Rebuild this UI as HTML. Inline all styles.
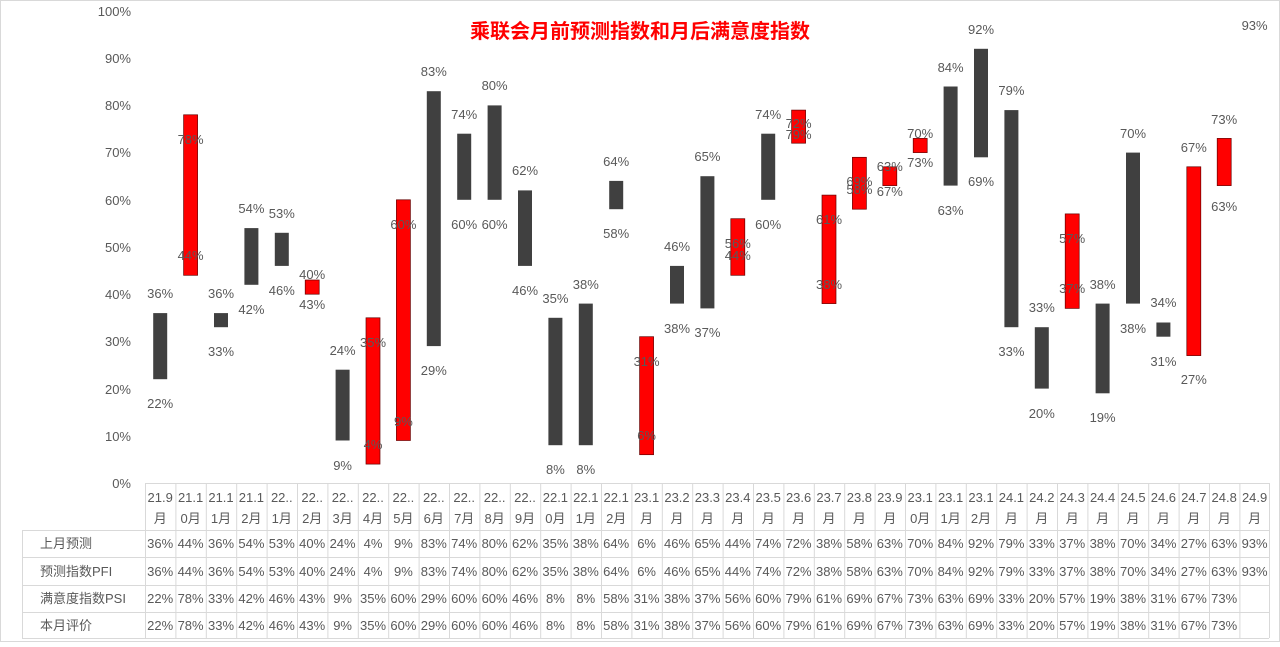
<!DOCTYPE html>
<html><head><meta charset="utf-8"><style>
body{margin:0;background:#fff}
svg text{font-family:"Liberation Sans","Noto Sans CJK SC",sans-serif;font-size:13px;fill:#595959}
</style></head><body>
<svg width="1280" height="642" xmlns="http://www.w3.org/2000/svg">
<rect x="0.5" y="0.5" width="1279" height="641" fill="#fff" stroke="#d9d9d9"/>
<text x="640" y="38" text-anchor="middle" style="font-size:20px;font-weight:bold;fill:#ff0000">乘联会月前预测指数和月后满意度指数</text>
<g text-anchor="end">
<text x="131" y="488">0%</text><text x="131" y="441">10%</text><text x="131" y="394">20%</text><text x="131" y="346">30%</text><text x="131" y="299">40%</text><text x="131" y="252">50%</text><text x="131" y="205">60%</text><text x="131" y="157">70%</text><text x="131" y="110">80%</text><text x="131" y="63">90%</text><text x="131" y="16">100%</text>
</g>
<g id="bars">
<rect x="153.2" y="313.1" width="14" height="66.1" fill="#404040"/>
<rect x="183.6" y="114.8" width="14" height="160.5" fill="#ff0000" stroke="#600" stroke-width="0.7"/>
<rect x="214.0" y="313.1" width="14" height="14.1" fill="#404040"/>
<rect x="244.4" y="228.1" width="14" height="56.7" fill="#404040"/>
<rect x="274.8" y="232.8" width="14" height="33.1" fill="#404040"/>
<rect x="305.2" y="280.0" width="14" height="14.2" fill="#ff0000" stroke="#600" stroke-width="0.7"/>
<rect x="335.6" y="369.7" width="14" height="70.8" fill="#404040"/>
<rect x="366.0" y="317.8" width="14" height="146.3" fill="#ff0000" stroke="#600" stroke-width="0.7"/>
<rect x="396.4" y="199.8" width="14" height="240.7" fill="#ff0000" stroke="#600" stroke-width="0.7"/>
<rect x="426.8" y="91.2" width="14" height="254.9" fill="#404040"/>
<rect x="457.2" y="133.7" width="14" height="66.1" fill="#404040"/>
<rect x="487.6" y="105.4" width="14" height="94.4" fill="#404040"/>
<rect x="518.0" y="190.4" width="14" height="75.5" fill="#404040"/>
<rect x="548.4" y="317.8" width="14" height="127.4" fill="#404040"/>
<rect x="578.8" y="303.6" width="14" height="141.6" fill="#404040"/>
<rect x="609.2" y="180.9" width="14" height="28.3" fill="#404040"/>
<rect x="639.6" y="336.7" width="14" height="118.0" fill="#ff0000" stroke="#600" stroke-width="0.7"/>
<rect x="670.0" y="265.9" width="14" height="37.7" fill="#404040"/>
<rect x="700.4" y="176.2" width="14" height="132.2" fill="#404040"/>
<rect x="730.8" y="218.7" width="14" height="56.6" fill="#ff0000" stroke="#600" stroke-width="0.7"/>
<rect x="761.2" y="133.7" width="14" height="66.1" fill="#404040"/>
<rect x="791.6" y="110.1" width="14" height="33.1" fill="#ff0000" stroke="#600" stroke-width="0.7"/>
<rect x="822.0" y="195.1" width="14" height="108.5" fill="#ff0000" stroke="#600" stroke-width="0.7"/>
<rect x="852.4" y="157.3" width="14" height="51.9" fill="#ff0000" stroke="#600" stroke-width="0.7"/>
<rect x="882.8" y="166.8" width="14" height="18.8" fill="#ff0000" stroke="#600" stroke-width="0.7"/>
<rect x="913.2" y="138.4" width="14" height="14.2" fill="#ff0000" stroke="#600" stroke-width="0.7"/>
<rect x="943.6" y="86.5" width="14" height="99.1" fill="#404040"/>
<rect x="974.0" y="48.8" width="14" height="108.5" fill="#404040"/>
<rect x="1004.4" y="110.1" width="14" height="217.1" fill="#404040"/>
<rect x="1034.8" y="327.2" width="14" height="61.4" fill="#404040"/>
<rect x="1065.2" y="213.9" width="14" height="94.5" fill="#ff0000" stroke="#600" stroke-width="0.7"/>
<rect x="1095.6" y="303.6" width="14" height="89.7" fill="#404040"/>
<rect x="1126.0" y="152.6" width="14" height="151.0" fill="#404040"/>
<rect x="1156.4" y="322.5" width="14" height="14.2" fill="#404040"/>
<rect x="1186.8" y="166.8" width="14" height="188.8" fill="#ff0000" stroke="#600" stroke-width="0.7"/>
<rect x="1217.2" y="138.4" width="14" height="47.2" fill="#ff0000" stroke="#600" stroke-width="0.7"/>
</g>
<g text-anchor="middle">
<text x="160.2" y="298">36%</text><text x="160.2" y="408">22%</text>
<text x="190.6" y="260">44%</text><text x="190.6" y="144">78%</text>
<text x="221.0" y="298">36%</text><text x="221.0" y="356">33%</text>
<text x="251.4" y="213">54%</text><text x="251.4" y="314">42%</text>
<text x="281.8" y="218">53%</text><text x="281.8" y="295">46%</text>
<text x="312.2" y="279">40%</text><text x="312.2" y="309">43%</text>
<text x="342.6" y="355">24%</text><text x="342.6" y="470">9%</text>
<text x="373.0" y="449">4%</text><text x="373.0" y="347">35%</text>
<text x="403.4" y="426">9%</text><text x="403.4" y="229">60%</text>
<text x="433.8" y="76">83%</text><text x="433.8" y="375">29%</text>
<text x="464.2" y="119">74%</text><text x="464.2" y="229">60%</text>
<text x="494.6" y="90">80%</text><text x="494.6" y="229">60%</text>
<text x="525.0" y="175">62%</text><text x="525.0" y="295">46%</text>
<text x="555.4" y="303">35%</text><text x="555.4" y="474">8%</text>
<text x="585.8" y="289">38%</text><text x="585.8" y="474">8%</text>
<text x="616.2" y="166">64%</text><text x="616.2" y="238">58%</text>
<text x="646.6" y="440">6%</text><text x="646.6" y="366">31%</text>
<text x="677.0" y="251">46%</text><text x="677.0" y="333">38%</text>
<text x="707.4" y="161">65%</text><text x="707.4" y="337">37%</text>
<text x="737.8" y="260">44%</text><text x="737.8" y="248">56%</text>
<text x="768.2" y="119">74%</text><text x="768.2" y="229">60%</text>
<text x="798.6" y="128">72%</text><text x="798.6" y="139">79%</text>
<text x="829.0" y="289">38%</text><text x="829.0" y="224">61%</text>
<text x="859.4" y="194">58%</text><text x="859.4" y="186">69%</text>
<text x="889.8" y="171">63%</text><text x="889.8" y="196">67%</text>
<text x="920.2" y="138">70%</text><text x="920.2" y="167">73%</text>
<text x="950.6" y="72">84%</text><text x="950.6" y="215">63%</text>
<text x="981.0" y="34">92%</text><text x="981.0" y="186">69%</text>
<text x="1011.4" y="95">79%</text><text x="1011.4" y="356">33%</text>
<text x="1041.8" y="312">33%</text><text x="1041.8" y="418">20%</text>
<text x="1072.2" y="293">37%</text><text x="1072.2" y="243">57%</text>
<text x="1102.6" y="289">38%</text><text x="1102.6" y="422">19%</text>
<text x="1133.0" y="138">70%</text><text x="1133.0" y="333">38%</text>
<text x="1163.4" y="307">34%</text><text x="1163.4" y="366">31%</text>
<text x="1193.8" y="384">27%</text><text x="1193.8" y="152">67%</text>
<text x="1224.2" y="211">63%</text><text x="1224.2" y="124">73%</text>
<text x="1254.6" y="30">93%</text>
</g>
<g stroke="#d9d9d9" stroke-width="1" fill="none">
<line x1="145" y1="483.5" x2="1269" y2="483.5"/>
<line x1="22" y1="530.5" x2="1269" y2="530.5"/>
<line x1="22" y1="557.5" x2="1269" y2="557.5"/>
<line x1="22" y1="585.5" x2="1269" y2="585.5"/>
<line x1="22" y1="612.5" x2="1269" y2="612.5"/>
<line x1="22" y1="638.5" x2="1269" y2="638.5"/>
<line x1="22.5" y1="530" x2="22.5" y2="638"/>
<path d="M145.5 483V638M175.9 483V638M206.3 483V638M236.7 483V638M267.1 483V638M297.5 483V638M327.9 483V638M358.3 483V638M388.7 483V638M419.1 483V638M449.5 483V638M479.9 483V638M510.3 483V638M540.7 483V638M571.1 483V638M601.5 483V638M631.9 483V638M662.3 483V638M692.7 483V638M723.1 483V638M753.5 483V638M783.9 483V638M814.3 483V638M844.7 483V638M875.1 483V638M905.5 483V638M935.9 483V638M966.3 483V638M996.7 483V638M1027.1 483V638M1057.5 483V638M1087.9 483V638M1118.3 483V638M1148.7 483V638M1179.1 483V638M1209.5 483V638M1239.9 483V638M1269.5 483V638"/>
</g>
<g>
<text x="40" y="548">上月预测</text>
<text x="40" y="576">预测指数PFI</text>
<text x="40" y="603">满意度指数PSI</text>
<text x="40" y="630">本月评价</text>
</g>
<g text-anchor="middle">
<text x="160.2" y="502">21.9</text><text x="160.2" y="523">月</text>
<text x="190.6" y="502">21.1</text><text x="190.6" y="523">0月</text>
<text x="221.0" y="502">21.1</text><text x="221.0" y="523">1月</text>
<text x="251.4" y="502">21.1</text><text x="251.4" y="523">2月</text>
<text x="281.8" y="502">22..</text><text x="281.8" y="523">1月</text>
<text x="312.2" y="502">22..</text><text x="312.2" y="523">2月</text>
<text x="342.6" y="502">22..</text><text x="342.6" y="523">3月</text>
<text x="373.0" y="502">22..</text><text x="373.0" y="523">4月</text>
<text x="403.4" y="502">22..</text><text x="403.4" y="523">5月</text>
<text x="433.8" y="502">22..</text><text x="433.8" y="523">6月</text>
<text x="464.2" y="502">22..</text><text x="464.2" y="523">7月</text>
<text x="494.6" y="502">22..</text><text x="494.6" y="523">8月</text>
<text x="525.0" y="502">22..</text><text x="525.0" y="523">9月</text>
<text x="555.4" y="502">22.1</text><text x="555.4" y="523">0月</text>
<text x="585.8" y="502">22.1</text><text x="585.8" y="523">1月</text>
<text x="616.2" y="502">22.1</text><text x="616.2" y="523">2月</text>
<text x="646.6" y="502">23.1</text><text x="646.6" y="523">月</text>
<text x="677.0" y="502">23.2</text><text x="677.0" y="523">月</text>
<text x="707.4" y="502">23.3</text><text x="707.4" y="523">月</text>
<text x="737.8" y="502">23.4</text><text x="737.8" y="523">月</text>
<text x="768.2" y="502">23.5</text><text x="768.2" y="523">月</text>
<text x="798.6" y="502">23.6</text><text x="798.6" y="523">月</text>
<text x="829.0" y="502">23.7</text><text x="829.0" y="523">月</text>
<text x="859.4" y="502">23.8</text><text x="859.4" y="523">月</text>
<text x="889.8" y="502">23.9</text><text x="889.8" y="523">月</text>
<text x="920.2" y="502">23.1</text><text x="920.2" y="523">0月</text>
<text x="950.6" y="502">23.1</text><text x="950.6" y="523">1月</text>
<text x="981.0" y="502">23.1</text><text x="981.0" y="523">2月</text>
<text x="1011.4" y="502">24.1</text><text x="1011.4" y="523">月</text>
<text x="1041.8" y="502">24.2</text><text x="1041.8" y="523">月</text>
<text x="1072.2" y="502">24.3</text><text x="1072.2" y="523">月</text>
<text x="1102.6" y="502">24.4</text><text x="1102.6" y="523">月</text>
<text x="1133.0" y="502">24.5</text><text x="1133.0" y="523">月</text>
<text x="1163.4" y="502">24.6</text><text x="1163.4" y="523">月</text>
<text x="1193.8" y="502">24.7</text><text x="1193.8" y="523">月</text>
<text x="1224.2" y="502">24.8</text><text x="1224.2" y="523">月</text>
<text x="1254.6" y="502">24.9</text><text x="1254.6" y="523">月</text>
</g>
<g text-anchor="middle">
<text x="160.2" y="548">36%</text><text x="190.6" y="548">44%</text><text x="221.0" y="548">36%</text><text x="251.4" y="548">54%</text><text x="281.8" y="548">53%</text><text x="312.2" y="548">40%</text><text x="342.6" y="548">24%</text><text x="373.0" y="548">4%</text><text x="403.4" y="548">9%</text><text x="433.8" y="548">83%</text><text x="464.2" y="548">74%</text><text x="494.6" y="548">80%</text><text x="525.0" y="548">62%</text><text x="555.4" y="548">35%</text><text x="585.8" y="548">38%</text><text x="616.2" y="548">64%</text><text x="646.6" y="548">6%</text><text x="677.0" y="548">46%</text><text x="707.4" y="548">65%</text><text x="737.8" y="548">44%</text><text x="768.2" y="548">74%</text><text x="798.6" y="548">72%</text><text x="829.0" y="548">38%</text><text x="859.4" y="548">58%</text><text x="889.8" y="548">63%</text><text x="920.2" y="548">70%</text><text x="950.6" y="548">84%</text><text x="981.0" y="548">92%</text><text x="1011.4" y="548">79%</text><text x="1041.8" y="548">33%</text><text x="1072.2" y="548">37%</text><text x="1102.6" y="548">38%</text><text x="1133.0" y="548">70%</text><text x="1163.4" y="548">34%</text><text x="1193.8" y="548">27%</text><text x="1224.2" y="548">63%</text><text x="1254.6" y="548">93%</text>
</g>
<g text-anchor="middle">
<text x="160.2" y="576">36%</text><text x="190.6" y="576">44%</text><text x="221.0" y="576">36%</text><text x="251.4" y="576">54%</text><text x="281.8" y="576">53%</text><text x="312.2" y="576">40%</text><text x="342.6" y="576">24%</text><text x="373.0" y="576">4%</text><text x="403.4" y="576">9%</text><text x="433.8" y="576">83%</text><text x="464.2" y="576">74%</text><text x="494.6" y="576">80%</text><text x="525.0" y="576">62%</text><text x="555.4" y="576">35%</text><text x="585.8" y="576">38%</text><text x="616.2" y="576">64%</text><text x="646.6" y="576">6%</text><text x="677.0" y="576">46%</text><text x="707.4" y="576">65%</text><text x="737.8" y="576">44%</text><text x="768.2" y="576">74%</text><text x="798.6" y="576">72%</text><text x="829.0" y="576">38%</text><text x="859.4" y="576">58%</text><text x="889.8" y="576">63%</text><text x="920.2" y="576">70%</text><text x="950.6" y="576">84%</text><text x="981.0" y="576">92%</text><text x="1011.4" y="576">79%</text><text x="1041.8" y="576">33%</text><text x="1072.2" y="576">37%</text><text x="1102.6" y="576">38%</text><text x="1133.0" y="576">70%</text><text x="1163.4" y="576">34%</text><text x="1193.8" y="576">27%</text><text x="1224.2" y="576">63%</text><text x="1254.6" y="576">93%</text>
</g>
<g text-anchor="middle">
<text x="160.2" y="603">22%</text><text x="190.6" y="603">78%</text><text x="221.0" y="603">33%</text><text x="251.4" y="603">42%</text><text x="281.8" y="603">46%</text><text x="312.2" y="603">43%</text><text x="342.6" y="603">9%</text><text x="373.0" y="603">35%</text><text x="403.4" y="603">60%</text><text x="433.8" y="603">29%</text><text x="464.2" y="603">60%</text><text x="494.6" y="603">60%</text><text x="525.0" y="603">46%</text><text x="555.4" y="603">8%</text><text x="585.8" y="603">8%</text><text x="616.2" y="603">58%</text><text x="646.6" y="603">31%</text><text x="677.0" y="603">38%</text><text x="707.4" y="603">37%</text><text x="737.8" y="603">56%</text><text x="768.2" y="603">60%</text><text x="798.6" y="603">79%</text><text x="829.0" y="603">61%</text><text x="859.4" y="603">69%</text><text x="889.8" y="603">67%</text><text x="920.2" y="603">73%</text><text x="950.6" y="603">63%</text><text x="981.0" y="603">69%</text><text x="1011.4" y="603">33%</text><text x="1041.8" y="603">20%</text><text x="1072.2" y="603">57%</text><text x="1102.6" y="603">19%</text><text x="1133.0" y="603">38%</text><text x="1163.4" y="603">31%</text><text x="1193.8" y="603">67%</text><text x="1224.2" y="603">73%</text>
</g>
<g text-anchor="middle">
<text x="160.2" y="630">22%</text><text x="190.6" y="630">78%</text><text x="221.0" y="630">33%</text><text x="251.4" y="630">42%</text><text x="281.8" y="630">46%</text><text x="312.2" y="630">43%</text><text x="342.6" y="630">9%</text><text x="373.0" y="630">35%</text><text x="403.4" y="630">60%</text><text x="433.8" y="630">29%</text><text x="464.2" y="630">60%</text><text x="494.6" y="630">60%</text><text x="525.0" y="630">46%</text><text x="555.4" y="630">8%</text><text x="585.8" y="630">8%</text><text x="616.2" y="630">58%</text><text x="646.6" y="630">31%</text><text x="677.0" y="630">38%</text><text x="707.4" y="630">37%</text><text x="737.8" y="630">56%</text><text x="768.2" y="630">60%</text><text x="798.6" y="630">79%</text><text x="829.0" y="630">61%</text><text x="859.4" y="630">69%</text><text x="889.8" y="630">67%</text><text x="920.2" y="630">73%</text><text x="950.6" y="630">63%</text><text x="981.0" y="630">69%</text><text x="1011.4" y="630">33%</text><text x="1041.8" y="630">20%</text><text x="1072.2" y="630">57%</text><text x="1102.6" y="630">19%</text><text x="1133.0" y="630">38%</text><text x="1163.4" y="630">31%</text><text x="1193.8" y="630">67%</text><text x="1224.2" y="630">73%</text>
</g>
</svg>
</body></html>
